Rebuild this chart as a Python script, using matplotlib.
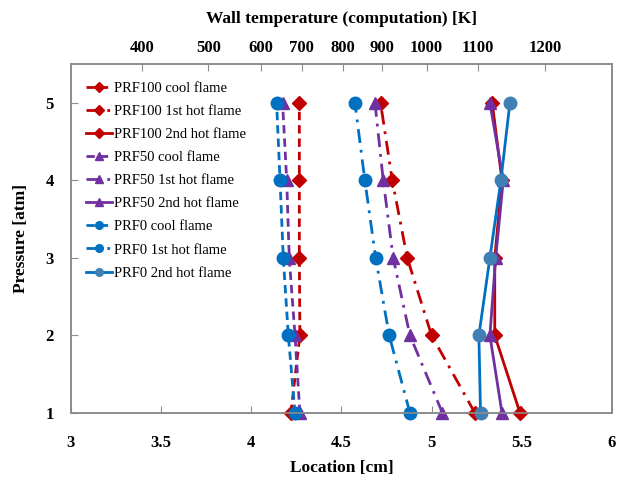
import matplotlib
matplotlib.use('Agg')
import matplotlib.pyplot as plt

plt.rcParams['font.family'] = ['Liberation Serif', 'DejaVu Serif']

# -----------------------------------------------------------------------
# Data (location [cm] of each flame front at each pressure)
# -----------------------------------------------------------------------
pressure = [1, 2, 3, 4, 5]

prf100_cool = [4.22, 4.27, 4.267, 4.267, 4.267]
prf100_1st  = [5.24, 5.00, 4.865, 4.782, 4.717]
prf100_2nd  = [5.49, 5.35, 5.35, 5.39, 5.336]

prf50_cool = [4.27, 4.243, 4.211, 4.197, 4.174]
prf50_1st  = [5.06, 4.88, 4.787, 4.732, 4.686]
prf50_2nd  = [5.39, 5.323, 5.355, 5.397, 5.323]

prf0_cool = [4.243, 4.206, 4.178, 4.160, 4.141]
prf0_1st  = [4.88, 4.765, 4.690, 4.630, 4.575]
prf0_2nd  = [5.271, 5.262, 5.323, 5.384, 5.434]

# top axis: wall temperature at given locations
temp_labels    = [400, 500, 600, 700, 800, 900, 1000, 1100, 1200]
temp_locations = [3.393, 3.762, 4.054, 4.280, 4.507, 4.723, 4.972, 5.258, 5.628]

RED, PURPLE, BLUE, STEEL = '#C00000', '#7030A0', '#0070C0', '#3F7FB3'
GREY = '#8C8C8C'

series = [
    ('PRF100 cool flame',     prf100_cool, RED,    RED,    'D', 'cool'),
    ('PRF100 1st hot flame',  prf100_1st,  RED,    RED,    'D', 'first'),
    ('PRF100 2nd hot flame',  prf100_2nd,  RED,    RED,    'D', 'second'),
    ('PRF50 cool flame',      prf50_cool,  PURPLE, PURPLE, '^', 'cool'),
    ('PRF50 1st hot flame',   prf50_1st,   PURPLE, PURPLE, '^', 'first'),
    ('PRF50 2nd hot flame',   prf50_2nd,   PURPLE, PURPLE, '^', 'second'),
    ('PRF0 cool flame',       prf0_cool,   BLUE,   BLUE,   'o', 'cool'),
    ('PRF0 1st hot flame',    prf0_1st,    BLUE,   BLUE,   'o', 'first'),
    ('PRF0 2nd hot flame',    prf0_2nd,    BLUE,   STEEL,  'o', 'second'),
]

styles = {
    'cool':   (0, (3.0, 1.8)),
    'first':  (0, (5.0, 2.5, 1.0, 2.5)),
    'second': '-',
}
msize = {'D': 7, '^': 8, 'o': 9}

fig = plt.figure(figsize=(6.22, 4.83), dpi=100)
ax = fig.add_axes([0.1137, 0.145, 0.984 - 0.1137, 0.8675 - 0.145])

for label, xs, lc, mc, mk, kind in series:
    ax.plot(xs, pressure, color=lc, linestyle=styles[kind], linewidth=2,
            marker=mk, markersize=msize[mk], markerfacecolor=mc,
            markeredgecolor=mc, label=label, clip_on=False, zorder=3)

ax.set_xlim(3, 6)
ax.set_ylim(1, 5.5)
ax.set_xticks([3, 3.5, 4, 4.5, 5, 5.5, 6])
ax.set_xticklabels(['3', '3.5', '4', '4.5', '5', '5.5', '6'])
ax.set_yticks([1, 2, 3, 4, 5])
ax.tick_params(direction='in', length=5, color=GREY, labelsize=12)
ax.tick_params(axis='x', pad=16)
ax.tick_params(axis='y', pad=12)
for t in ax.get_xticklabels() + ax.get_yticklabels():
    t.set_fontweight('bold')
for s in ax.spines.values():
    s.set_color(GREY)
    s.set_linewidth(1.2)

ax.set_xlabel('Location [cm]', fontsize=12.5, fontweight='bold', labelpad=6)
ax.set_ylabel('Pressure [atm]', fontsize=12.5, fontweight='bold', labelpad=12)

ax2 = ax.twiny()
ax2.set_xlim(ax.get_xlim())
ax2.set_xticks(temp_locations)
ax2.set_xticklabels([str(t) for t in temp_labels])
ax2.tick_params(direction='in', length=5, color=GREY, labelsize=12, pad=6)
for t in ax2.get_xticklabels():
    t.set_fontweight('bold')
for s in ax2.spines.values():
    s.set_color(GREY)
    s.set_linewidth(1.2)
ax2.set_xlabel('Wall temperature (computation) [K]', fontsize=12.5,
               fontweight='bold', labelpad=12)

leg = ax.legend(loc='upper left', bbox_to_anchor=(0.012, 0.975), frameon=True,
                edgecolor='none', facecolor='white', framealpha=1,
                fontsize=10.5, handlelength=1.8, handletextpad=0.15,
                labelspacing=0.68, borderaxespad=0.2)
for h in leg.legend_handles:
    h.set_markersize(5.5)
    h.set_linewidth(2)

fig.savefig('out.png', dpi=100)
